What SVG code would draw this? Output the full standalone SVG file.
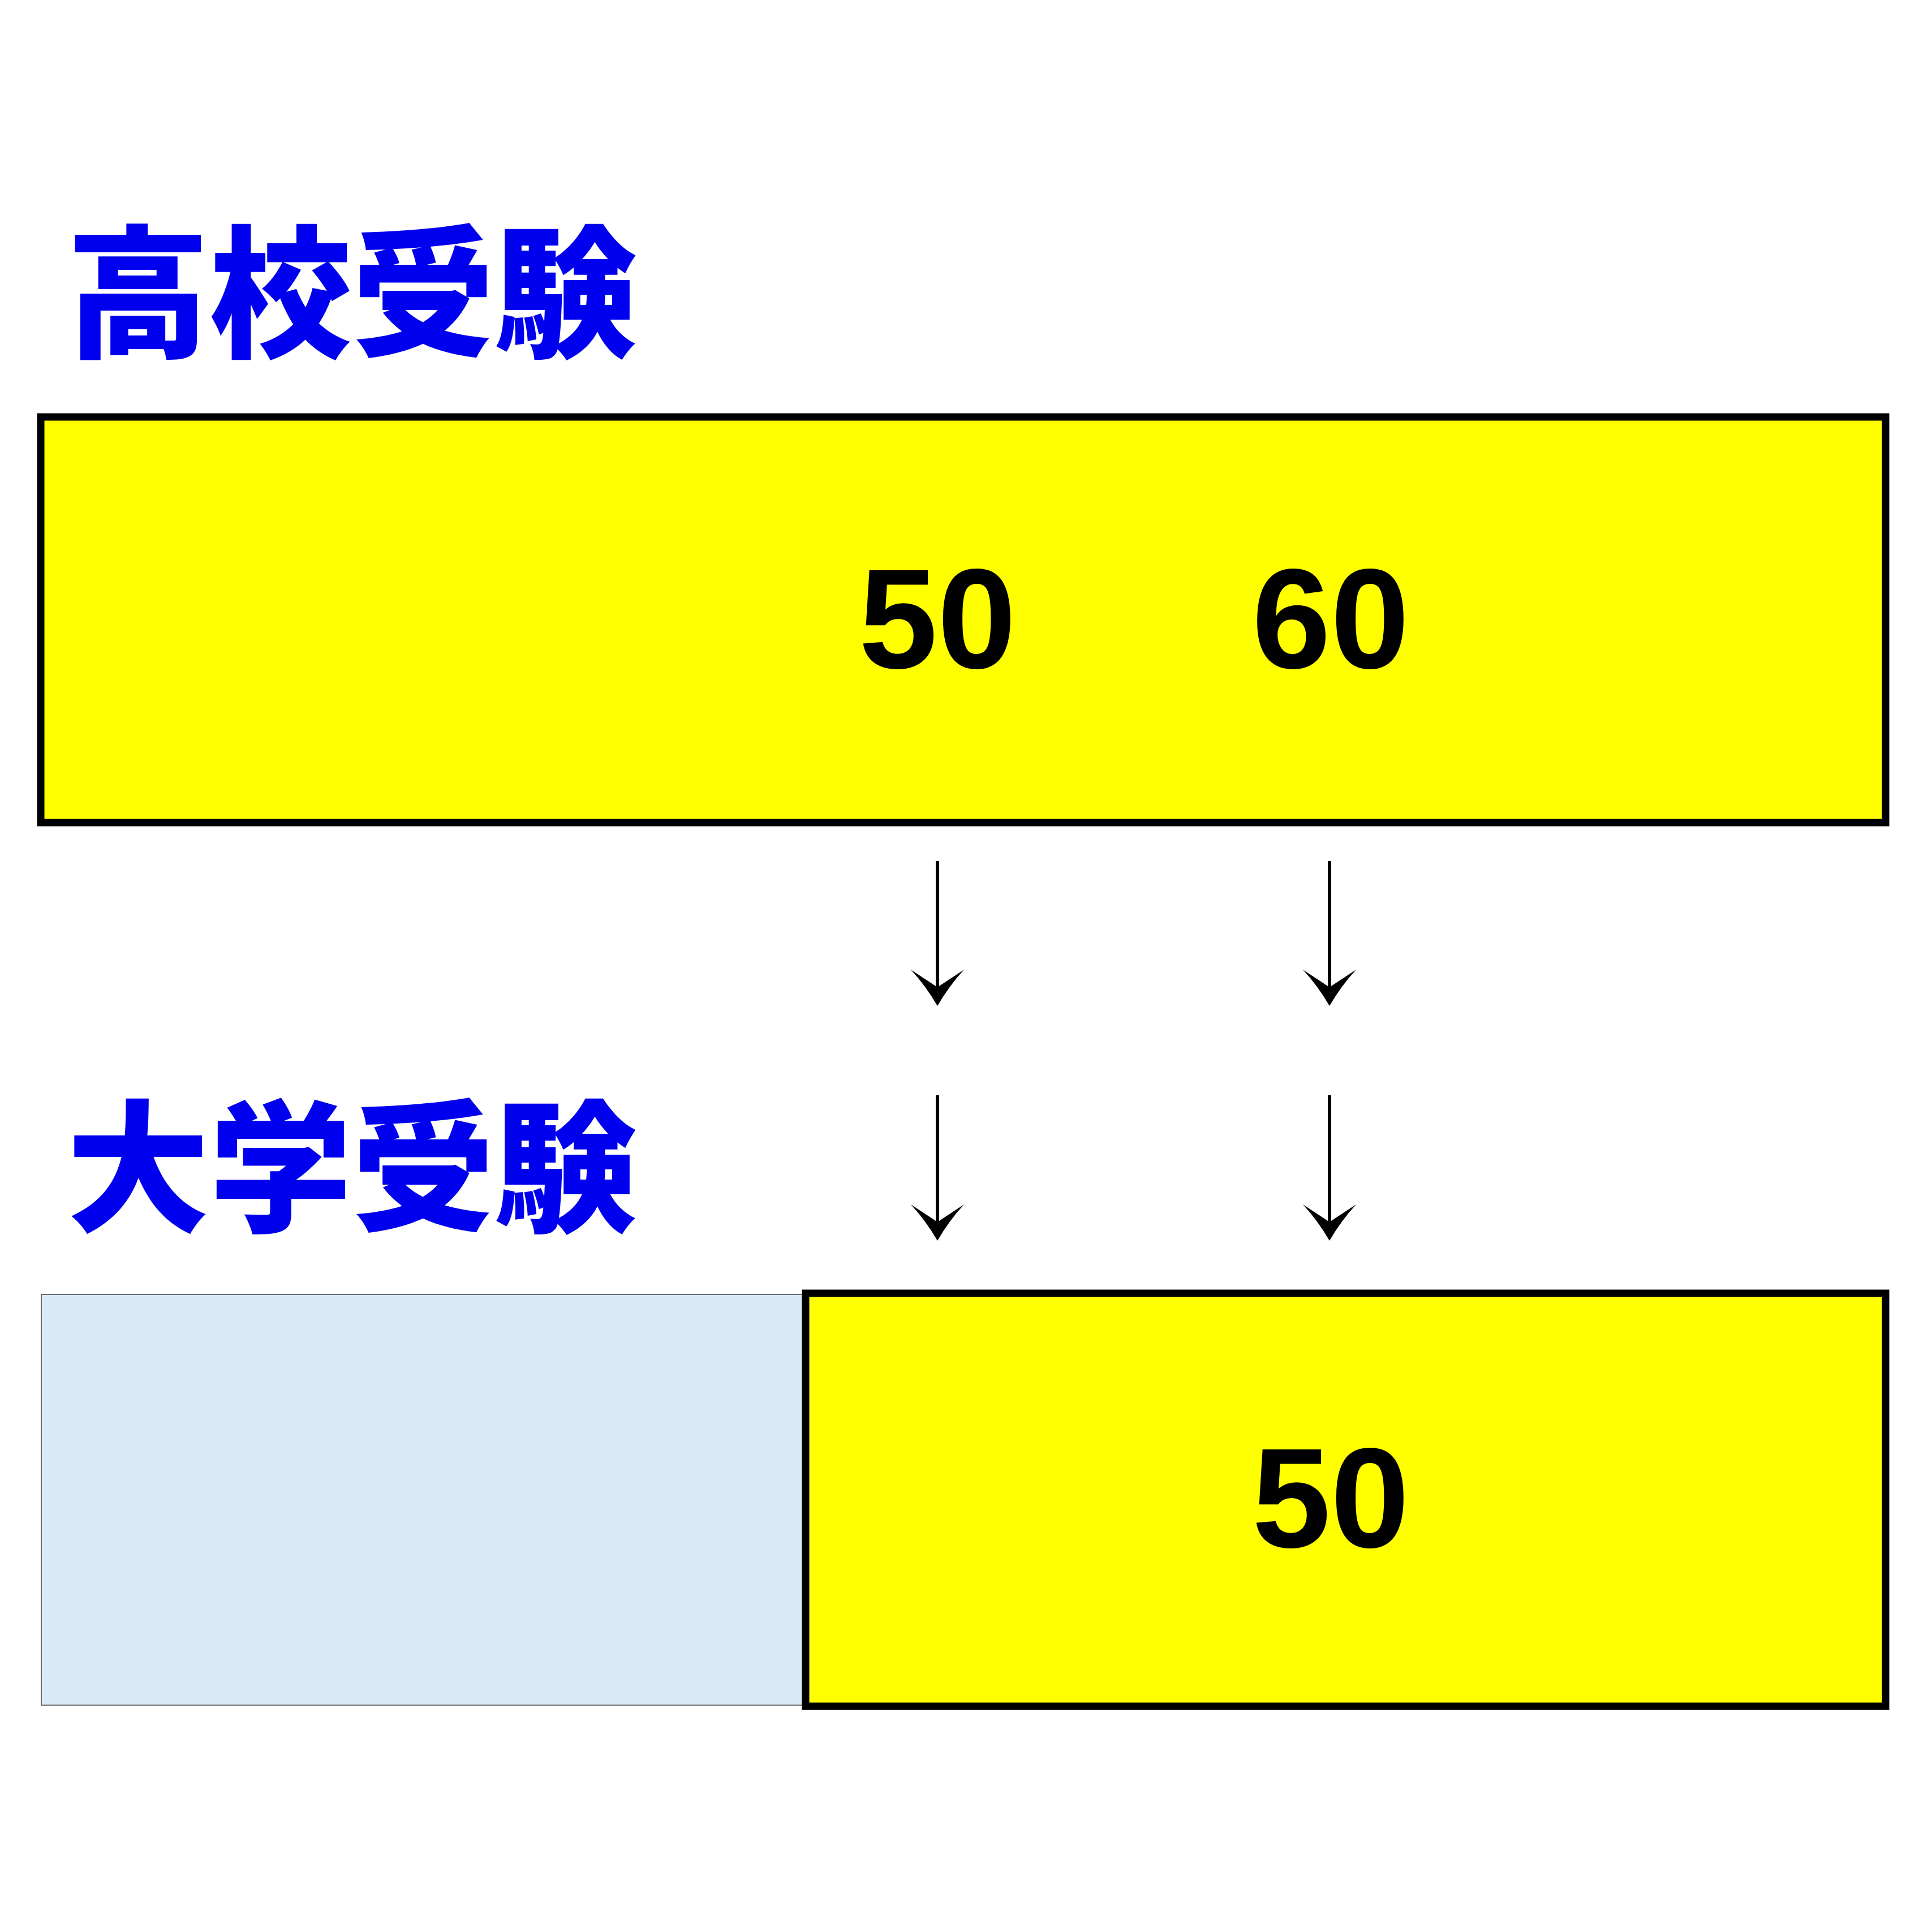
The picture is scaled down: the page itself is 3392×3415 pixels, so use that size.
<svg xmlns="http://www.w3.org/2000/svg" width="3392" height="3415" viewBox="0 0 3392 3415">
<defs><style>
.t{font-family:"Noto Sans CJK JP",sans-serif;font-weight:900;font-size:252px;fill:#0000ee}
.n{font-family:"Liberation Sans",sans-serif;font-weight:bold;font-size:250px;fill:#000;text-anchor:middle}
.y{fill:#ffff00;stroke:#000;stroke-width:13}
.c line{stroke:#000;stroke-width:6}
.h{fill:#000}
</style></defs>
<rect width="3392" height="3415" fill="#fff"/>
<g id="title1"><text class="t" x="118" y="612">高校受験</text></g>
<g id="box1"><rect class="y" x="72" y="737" width="3261" height="717"/>
<text class="n" x="1657" y="1181">50</text><text class="n" x="2352" y="1181">60</text></g>
<g id="title2"><text class="t" x="118" y="2158">大学受験</text></g>
<g id="box2a"><rect x="73" y="2288" width="1350" height="726" fill="#dae9f6" stroke="#444" stroke-width="1.5"/></g>
<g id="box2b"><rect class="y" x="1424" y="2286" width="1909" height="730"/>
<text class="n" x="2352" y="2735">50</text></g>
<g id="connectors" class="c">
<line x1="1657" y1="1522" x2="1657" y2="1770"/>
<line x1="2350" y1="1522" x2="2350" y2="1770"/>
<line x1="1657" y1="1936" x2="1657" y2="2185"/>
<line x1="2350" y1="1936" x2="2350" y2="2185"/>
<path class="h" d="M1657 1778 Q1636 1742 1610 1714 L1657 1745 L1704 1714 Q1678 1742 1657 1778Z"/>
<path class="h" d="M2350 1778 Q2329 1742 2303 1714 L2350 1745 L2397 1714 Q2371 1742 2350 1778Z"/>
<path class="h" d="M1657 2193 Q1636 2157 1610 2129 L1657 2160 L1704 2129 Q1678 2157 1657 2193Z"/>
<path class="h" d="M2350 2193 Q2329 2157 2303 2129 L2350 2160 L2397 2129 Q2371 2157 2350 2193Z"/>
</g>
</svg>
